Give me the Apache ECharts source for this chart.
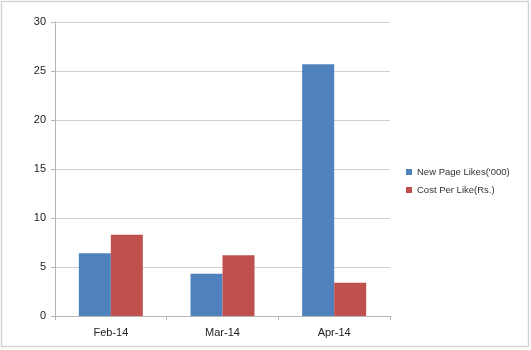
<!DOCTYPE html>
<html><head><meta charset="utf-8">
<script src="https://cdn.jsdelivr.net/npm/echarts@6/dist/echarts.min.js"></script>
<style>html,body{margin:0;padding:0;background:#fff}#c{width:531px;height:350px}</style>
</head><body><div id="c"></div>
<script>
const categories = ['Feb-14', 'Mar-14', 'Apr-14'];
const newPageLikes = [6.4, 4.3, 25.7];
const costPerLike = [8.3, 6.2, 3.4];
const seriesNames = ["New Page Likes('000)", 'Cost Per Like(Rs.)'];

const chart = echarts.init(document.getElementById('c'));
chart.setOption({
  animation: false,
  textStyle: { fontFamily: 'Liberation Sans, Arial, sans-serif' },
  graphic: [{ type: 'rect', shape: { x: 1.5, y: 1.5, width: 527, height: 345 }, style: { fill: 'none', stroke: '#d4d4d4', lineWidth: 1.5 }, silent: true }],
  grid: { left: 55, right: 141, top: 22, bottom: 34 },
  legend: {
    orient: 'vertical', left: 401, top: 162, itemWidth: 6, itemHeight: 6, itemGap: 8,
    icon: 'rect',
    textStyle: { fontSize: 9.5, color: '#333' },
    data: seriesNames
  },
  xAxis: {
    type: 'category', data: categories,
    axisLine: { lineStyle: { color: '#b5b5b5' } },
    axisTick: { show: true, length: 4, lineStyle: { color: '#b5b5b5' } },
    axisLabel: { color: '#222', fontSize: 11, margin: 11 }
  },
  yAxis: {
    type: 'value', min: 0, max: 30, interval: 5,
    axisLine: { show: true, lineStyle: { color: '#b5b5b5' } },
    axisTick: { show: true, length: 4, lineStyle: { color: '#b5b5b5' } },
    splitLine: { lineStyle: { color: '#cfcfcf' } },
    axisLabel: { color: '#222', fontSize: 11, margin: 9 }
  },
  series: [
    { name: seriesNames[0], type: 'bar', data: newPageLikes, itemStyle: { color: '#4F81BD' }, barWidth: 32, barGap: '0%' },
    { name: seriesNames[1], type: 'bar', data: costPerLike, itemStyle: { color: '#C0504D' }, barWidth: 32, barGap: '0%' }
  ]
});
</script></body></html>
